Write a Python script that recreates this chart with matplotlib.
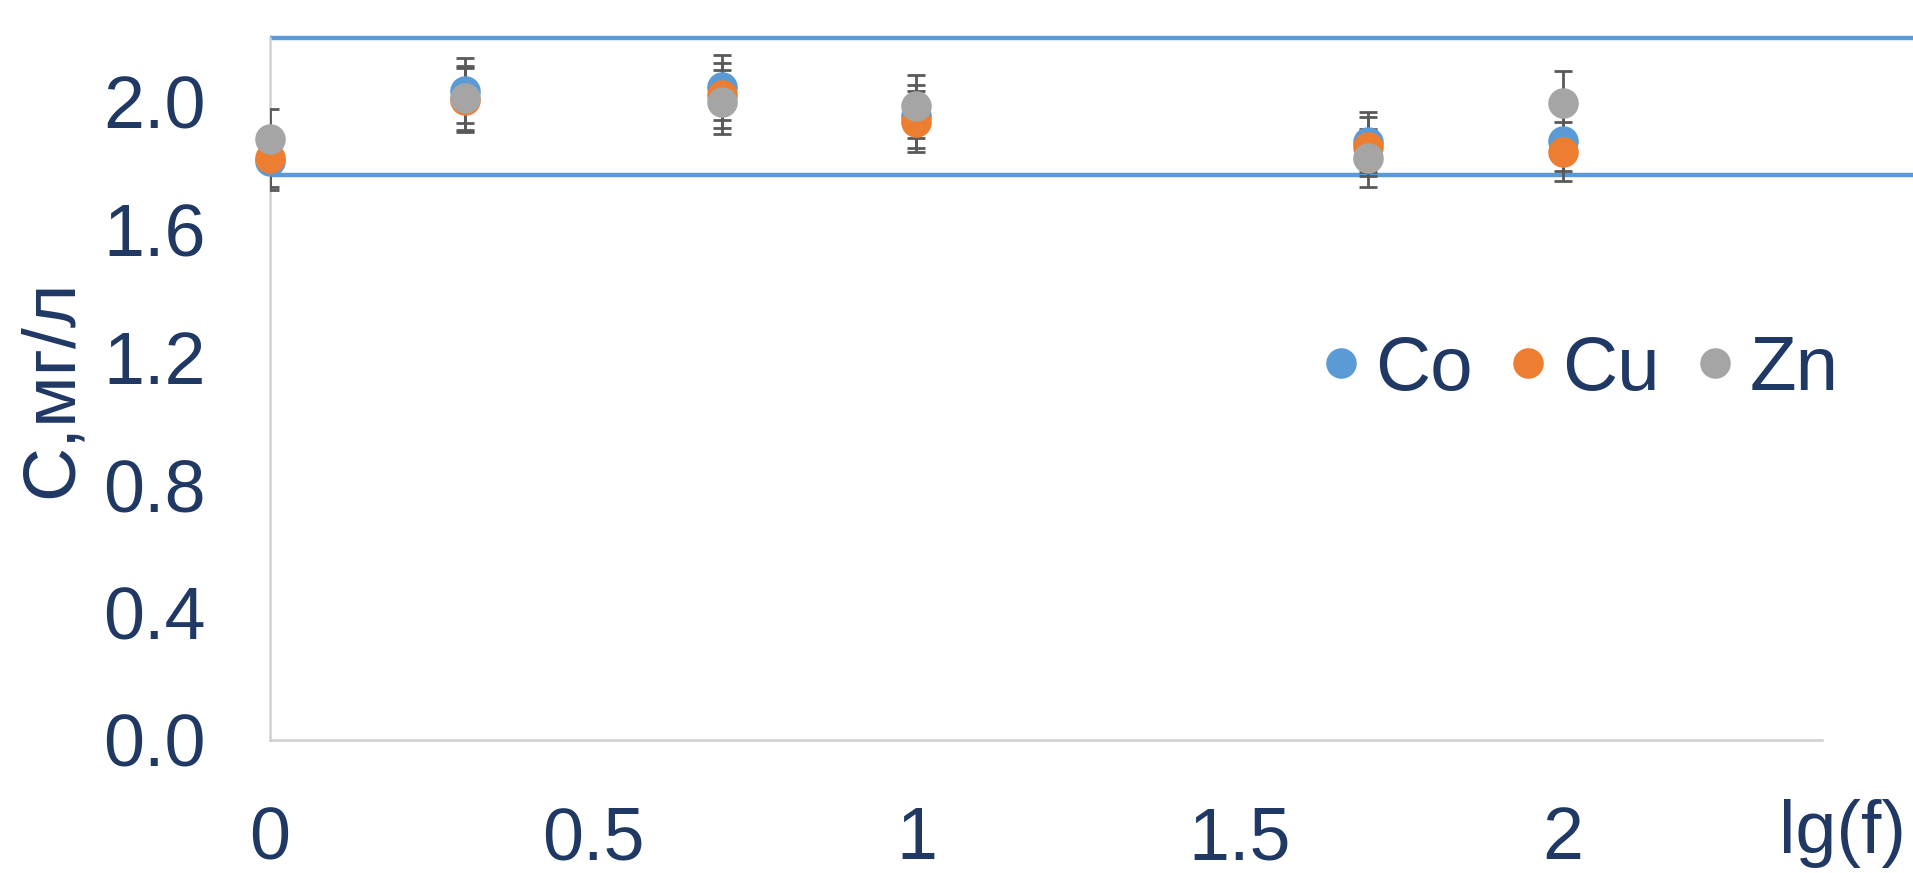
import matplotlib
matplotlib.use("Agg")
import matplotlib.pyplot as plt
import matplotlib.transforms as mtransforms
import numpy as np

plt.rcParams['font.family'] = ['Liberation Sans', 'DejaVu Sans']

# lg of frequency
lg_f = [0.0, 0.301, 0.699, 1.0, 1.699, 2.0]

# concentrations, mg/l
co = [1.815, 2.034, 2.045, 1.954, 1.873, 1.878]
cu = [1.824, 2.006, 2.020, 1.938, 1.859, 1.844]
zn = [1.883, 2.012, 2.000, 1.986, 1.824, 1.996]

rel_error = 0.05          # 5 % error bars
limits = [1.77, 2.2]      # reference band

series = [("Co", co, "#5b9bd5"), ("Cu", cu, "#ed7d31"), ("Zn", zn, "#a5a5a5")]
text_color = "#1f3864"

fig = plt.figure(figsize=(19.13, 8.73), dpi=100)
ax = fig.add_axes([0.1411, 0.1524, 0.8111, 0.8041])

ax.set_xlim(0, 2.4)
ax.set_ylim(0, 2.2)

# reference band lines from the y axis to the right edge of the figure
trans = mtransforms.blended_transform_factory(fig.transFigure, ax.transData)
x0 = ax.get_position().x0
for lvl in limits:
    ax.plot([x0, 1.0], [lvl, lvl], color="#5b9bd5", lw=3.2, transform=trans,
            clip_on=False, zorder=2, solid_capstyle="butt")

for name, vals, col in series:
    vals = np.asarray(vals)
    ax.errorbar(lg_f, vals, yerr=vals * rel_error, fmt="none", ecolor="#595959",
                elinewidth=2, capsize=6.5, capthick=2, zorder=3)

for i, (name, vals, col) in enumerate(series):
    ax.plot(lg_f, vals, "o", color=col, markersize=22, markeredgewidth=0,
            label=name, zorder=4 + i, clip_on=False)

ax.set_xticks([0, 0.5, 1, 1.5, 2])
ax.set_xticklabels(["0", "0.5", "1", "1.5", "2"])
ax.set_yticks(np.arange(0, 2.01, 0.4))
ax.set_yticklabels([f"{v:.1f}" for v in np.arange(0, 2.01, 0.4)])

ax.tick_params(axis="both", length=0, labelsize=53, colors=text_color)
ax.tick_params(axis="x", pad=47)
ax.tick_params(axis="y", pad=46)

for s in ["top", "right"]:
    ax.spines[s].set_visible(False)
for s in ["left", "bottom"]:
    ax.spines[s].set_color("#d0d0d0")
    ax.spines[s].set_linewidth(1.8)

ax.set_ylabel("C,мг/л", fontsize=54, color=text_color)
ax.yaxis.set_label_coords(-0.118, 0.5)
fig.text(1842 / 1913, 1 - 833 / 873, "lg(f)", fontsize=53, color=text_color,
         ha="center", va="center")

leg = ax.legend(loc="center", bbox_to_anchor=(0.822, 0.576),
                bbox_transform=fig.transFigure, ncol=3, frameon=False,
                fontsize=55, handletextpad=0.0, columnspacing=0.27,
                markerscale=1.0, handlelength=0.9)
for t in leg.get_texts():
    t.set_color(text_color)

fig.savefig("out.png", dpi=100)
